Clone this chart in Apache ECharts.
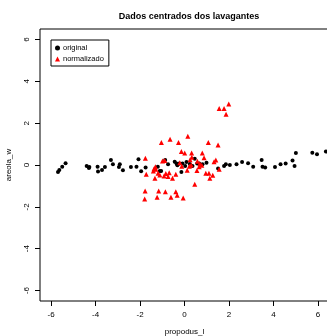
<!DOCTYPE html>
<html>
<head>
<meta charset="utf-8">
<script src="https://cdn.jsdelivr.net/npm/echarts@6/dist/echarts.min.js"></script>
<style>
  html, body { margin: 0; padding: 0; background: #fff; }
  #main { width: 327px; height: 336px; }
</style>
</head>
<body>
<div id="main"></div>
<script>
// original data (centred), x = propodus_l, y = areola_w
var origX = [-5.69, -5.63, -5.50, -5.35, -4.40, -4.28, -4.30, -3.91, -3.89, -3.71,
  -3.58, -3.31, -3.22, -2.95, -2.91, -2.77, -2.41, -2.16, -2.07, -1.95,
  -1.75, -1.20, -1.11, -1.05, -0.87, -0.74, -0.44, -0.36, -0.32, -0.24,
  -0.14, -0.09, 0.03, 0.09, 0.24, 0.36, 0.46, 0.57, 0.66, 0.81,
  0.99, 1.51, 1.78, 1.86, 2.04, 2.34, 2.59, 2.86, 3.09, 3.47,
  3.51, 3.63, 4.07, 4.32, 4.55, 4.86, 4.95, 5.01, 5.75, 5.96, 6.36];
var origY = [-0.33, -0.24, -0.08, 0.08, -0.05, -0.10, -0.14, -0.08, -0.31, -0.24,
  -0.10, 0.24, 0.03, -0.10, 0.03, -0.25, -0.10, -0.08, 0.27, -0.30,
  -0.12, -0.08, -0.29, -0.29, 0.24, 0.03, 0.16, 0.07, -0.01, 0.07,
  -0.33, 0.07, -0.05, 0.14, 0.05, -0.05, 0.30, 0.07, 0.07, 0.03,
  0.11, -0.17, -0.05, 0.03, 0.00, 0.03, 0.14, 0.08, -0.08, 0.24,
  -0.08, -0.12, -0.10, 0.03, 0.07, 0.21, -0.05, 0.57, 0.59, 0.51, 0.64];

// normalised data
var normX = [-1.76, -1.04, -0.65, -0.27, 0.15, 1.07, 1.51, 1.56, 1.78, 1.99,
  1.87, -0.14, 0.01, 0.32, 0.80, 0.33, 0.88, -0.99, -0.89, -0.21,
  0.25, 0.58, 0.69, 1.41, 1.33, -0.12, 0.22, 0.30, 0.66, 0.78,
  0.56, 0.12, 0.96, 1.10, 1.27, 1.14, 1.56, -1.37, -1.31, -1.40,
  -1.29, -1.72, -1.33, -1.19, -1.11, -0.92, -0.84, -0.69, -0.74, -0.54,
  -0.39, 0.46, -1.77, -1.79, -1.16, -1.23, -0.86, -0.61, -0.39, -0.33, -0.06];
var normY = [0.32, 1.08, 1.23, 1.08, 1.38, 1.08, 0.95, 2.70, 2.70, 2.91,
  2.43, 0.65, 0.57, 0.57, 0.57, 0.37, 0.35, 0.19, 0.21, 0.11,
  0.25, 0.18, 0.06, 0.24, 0.15, -0.06, -0.06, 0.00, -0.08, -0.01,
  -0.26, -0.25, -0.39, -0.39, -0.49, -0.63, -0.20, -0.18, -0.08, -0.29,
  -0.20, -0.44, -0.63, -0.39, -0.48, -0.53, -0.41, -0.37, -0.55, -0.63,
  -0.44, -0.92, -1.24, -1.62, -1.24, -1.54, -1.28, -1.54, -1.28, -1.44, -1.58];

var tickValues = [-6, -4, -2, 0, 2, 4, 6];

function pairs(xs, ys) {
  var out = [];
  for (var i = 0; i < xs.length; i++) out.push([xs[i], ys[i]]);
  return out;
}

var font = 'Liberation Sans, Arial, Helvetica, sans-serif';
var chart = echarts.init(document.getElementById('main'), null, { renderer: 'canvas' });

var option = {
  animation: false,
  backgroundColor: '#fff',
  title: {
    text: 'Dados centrados dos lavagantes',
    left: 184, top: 7, textAlign: 'center',
    textStyle: { fontFamily: font, fontSize: 9, fontWeight: 'bold', color: '#000' }
  },
  legend: {
    orient: 'vertical',
    left: 51, top: 40,
    borderColor: '#000', borderWidth: 1,
    padding: [4, 5, 3, 4],
    itemWidth: 5, itemHeight: 5, itemGap: 3,
    textStyle: { fontFamily: font, fontSize: 7.5, color: '#000', padding: [0, 0, 0, -2] },
    data: [
      { name: 'original', icon: 'circle' },
      { name: 'normalizado', icon: 'triangle' }
    ]
  },
  grid: {
    left: 40, top: 29, width: 289, height: 272,
    outerBoundsMode: 'none', containLabel: false,
    show: true, borderColor: '#000', borderWidth: 1, backgroundColor: 'transparent'
  },
  xAxis: {
    type: 'value', min: -6.5, max: 6.5,
    name: 'propodus_l', nameLocation: 'middle', nameGap: 27,
    nameTextStyle: { fontFamily: font, fontSize: 8, color: '#000' },
    axisLine: { show: false, onZero: false },
    splitLine: { show: false },
    axisTick: { show: true, length: 5, inside: false, customValues: tickValues, lineStyle: { color: '#000' } },
    axisLabel: { customValues: tickValues, margin: 10, fontFamily: font, fontSize: 8, color: '#000' }
  },
  yAxis: {
    type: 'value', min: -6.5, max: 6.5,
    name: 'areola_w', nameLocation: 'middle', nameGap: 27, nameRotate: 90,
    nameTextStyle: { fontFamily: font, fontSize: 8, color: '#000' },
    axisLine: { show: false, onZero: false },
    splitLine: { show: false },
    axisTick: { show: true, length: 5, inside: false, customValues: tickValues, lineStyle: { color: '#000' } },
    axisLabel: { customValues: tickValues, rotate: 90, margin: 9, fontFamily: font, fontSize: 8, color: '#000' }
  },
  series: [
    {
      name: 'original', type: 'scatter', symbol: 'circle', symbolSize: 4,
      itemStyle: { color: '#000', opacity: 1 },
      data: pairs(origX, origY)
    },
    {
      name: 'normalizado', type: 'scatter', symbol: 'triangle', symbolSize: 5,
      itemStyle: { color: '#ff0000', opacity: 1 },
      data: pairs(normX, normY)
    }
  ]
};

chart.setOption(option);
</script>
</body>
</html>
